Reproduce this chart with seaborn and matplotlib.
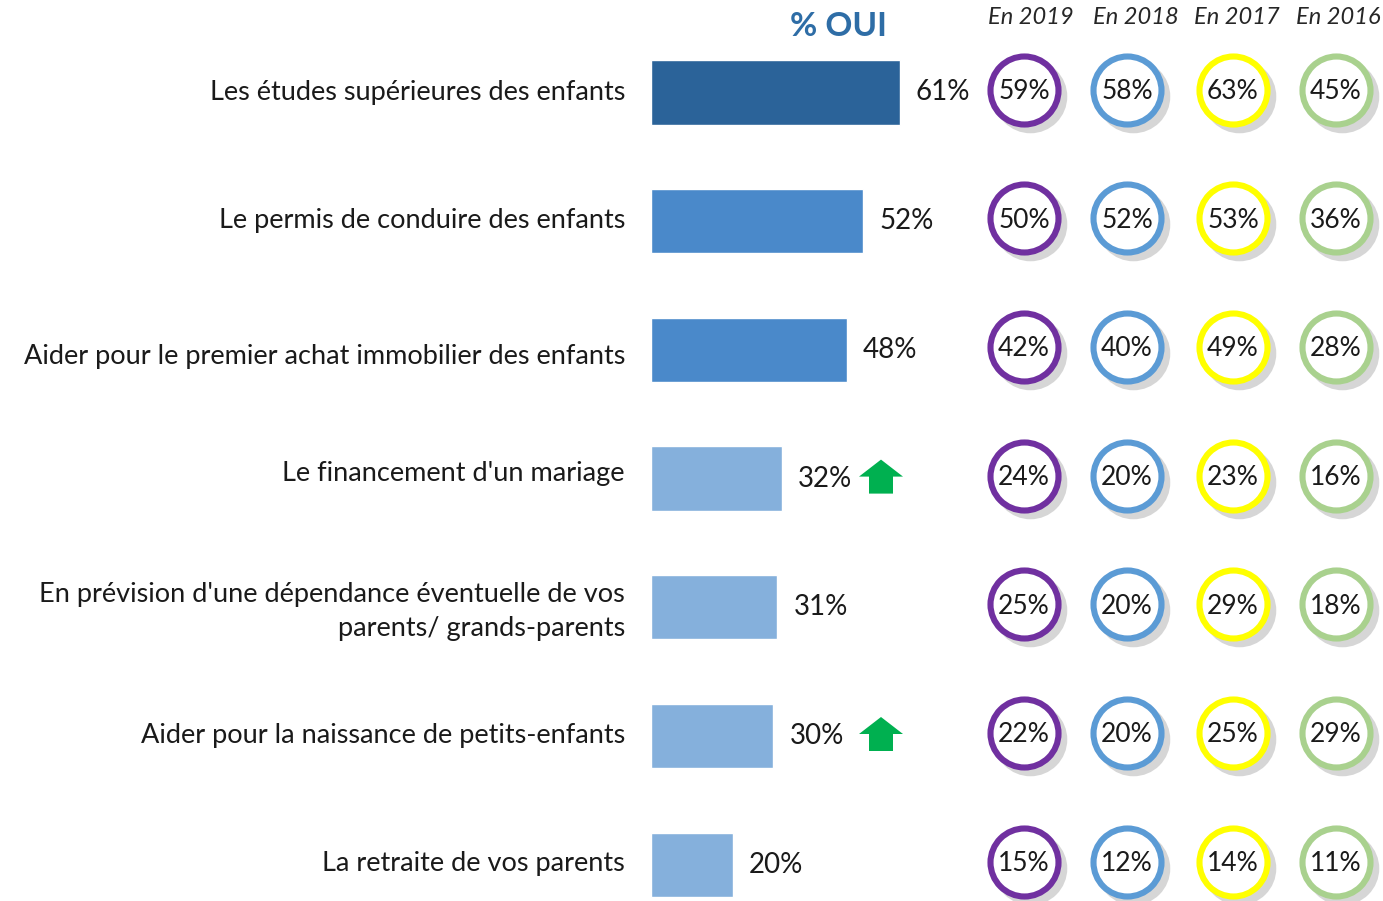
import matplotlib
matplotlib.use("Agg")
import matplotlib.pyplot as plt
from matplotlib.patches import Polygon
import seaborn as sns
import pandas as pd

# --- data -------------------------------------------------------------
categories = [
    "Les études supérieures des enfants",
    "Le permis de conduire des enfants",
    "Aider pour le premier achat immobilier des enfants",
    "Le financement d'un mariage",
    "En prévision d'une dépendance éventuelle de vos\nparents/ grands-parents",
    "Aider pour la naissance de petits-enfants",
    "La retraite de vos parents",
]
oui = [61, 52, 48, 32, 31, 30, 20]
en_2019 = [59, 50, 42, 24, 25, 22, 15]
en_2018 = [58, 52, 40, 20, 20, 20, 12]
en_2017 = [63, 53, 49, 23, 29, 25, 14]
en_2016 = [45, 36, 28, 16, 18, 29, 11]
year_labels = ["En 2019", "En 2018", "En 2017", "En 2016"]
hausse = [False, False, False, True, False, True, False]

# --- style ------------------------------------------------------------
bar_colors = ["#2B6399", "#4A89CA", "#4A89CA",
              "#85B0DC", "#85B0DC", "#85B0DC", "#85B0DC"]
ring_colors = ["#7030A0", "#5B9BD5", "#FFFF00", "#A9D18E"]
shadow_color = "#D6D6D6"
arrow_color = "#00B050"
text_color = "#1A1A1A"
# small vertical nudges (px) of the category labels
label_nudge_px = [0, -1, 7, -5, 4, -1, -1]

sns.set_theme(style="white")
plt.rcParams["font.family"] = ["Lato", "DejaVu Sans"]

W, H = 1383, 901
fig = plt.figure(figsize=(W / 100, H / 100), dpi=100)
left_px = 651
ax = fig.add_axes([left_px / W, 0, 1 - left_px / W, 1])

px_per_pct = 4.08          # horizontal pixels per percentage point
row_px = 128.7             # vertical pixels per category row
first_px = 92.5            # pixel centre of the first row


def px_to_x(px):
    return (px - left_px) / px_per_pct


def px_to_y(py):
    return (py - first_px) / row_px


df = pd.DataFrame({"cat": categories, "oui": oui})
sns.barplot(data=df, x="oui", y="cat", hue="cat", palette=bar_colors,
            width=0.5, saturation=1, legend=False, ax=ax)

ax.set_xlim(0, px_to_x(W))
ax.set_ylim(px_to_y(H), px_to_y(0))
for s in ax.spines.values():
    s.set_visible(False)
ax.set_xticks([])
ax.set_yticks([])
ax.set_xlabel("")
ax.set_ylabel("")

sy = 1 / row_px
sx = 1 / px_per_pct
for r, (cat, dy) in enumerate(zip(categories, label_nudge_px)):
    ax.text(px_to_x(625), r + dy * sy, cat, ha="right", va="center",
            fontsize=19.5, color=text_color, linespacing=1.45, clip_on=False)

for c in ax.containers:
    ax.bar_label(c, fmt="%g%%", padding=11.5, fontsize=20, color=text_color)

# --- rings for previous years --------------------------------------------
ring_px = [1024, 1127, 1233, 1336]
header_px = [1031, 1136, 1237, 1338]
series = [en_2019, en_2018, en_2017, en_2016]
dx_sh = 6 * sx
dy_sh = 6 * sy
rows = list(range(len(categories)))
ring_y = [r - 3 * sy for r in rows]
diam_pt = 68 * 0.72
for cx_px, hx_px, vals, col, lab in zip(ring_px, header_px, series,
                                        ring_colors, year_labels):
    cx = px_to_x(cx_px)
    ax.scatter([cx + dx_sh] * len(rows), [y + dy_sh for y in ring_y],
               s=(diam_pt + 4) ** 2, color=shadow_color, linewidths=0,
               zorder=3)
    ax.scatter([cx] * len(rows), ring_y, s=diam_pt ** 2, facecolor="white",
               edgecolor=col, linewidths=4.4, zorder=4)
    for y, v in zip(ring_y, vals):
        ax.text(cx, y + 2 * sy, f"{v}%", ha="center", va="center",
                fontsize=19, color=text_color, zorder=5)
    ax.text(px_to_x(hx_px), px_to_y(17), lab, ha="center", va="center",
            fontsize=17, style="italic", color="#262626")

ax.text(px_to_x(838), px_to_y(27), "% OUI", ha="center", va="center",
        fontsize=24, fontweight="bold", color="#2E6DA6")

# --- rising-trend arrows --------------------------------------------------
arrow_x_px = 881
arrow_shape = [(0, -19), (22, -2), (12, -2), (12, 15),
               (-12, 15), (-12, -2), (-22, -2)]
for r, up in enumerate(hausse):
    if up:
        cx = px_to_x(arrow_x_px)
        pts = [(cx + px * sx, r + py * sy) for px, py in arrow_shape]
        ax.add_patch(Polygon(pts, closed=True, facecolor=arrow_color,
                             edgecolor="none", zorder=3))

fig.savefig("out.png", dpi=100)
